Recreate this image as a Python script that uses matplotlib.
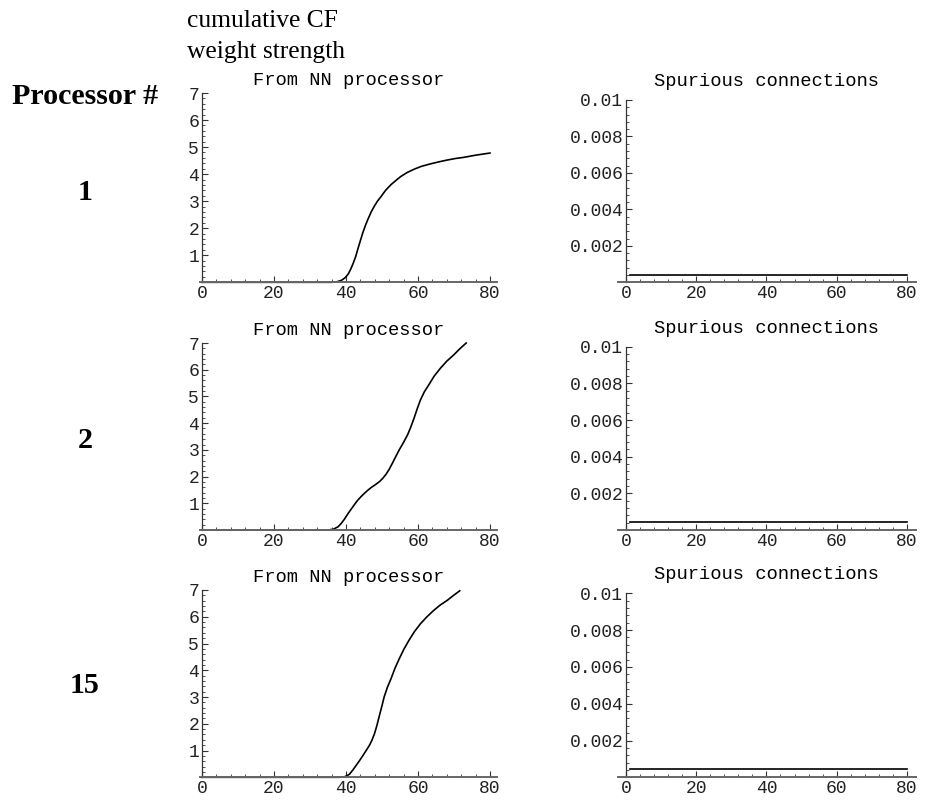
import matplotlib
matplotlib.use("Agg")
import matplotlib.pyplot as plt
from matplotlib.ticker import MultipleLocator

# curves: cumulative CF weight strength vs time
x_p1 = [0, 36, 37.5, 38.7, 39.7, 40.6, 41.3, 42, 42.7, 43.3, 44, 44.7, 45.4, 46.1, 47, 47.9,
        48.8, 49.8, 51, 52.5, 54, 55.2, 57, 58.9, 61, 63.5, 66, 68.1, 70.5, 72.7, 76, 80]
y_p1 = [0, 0, 0.02, 0.07, 0.16, 0.3, 0.48, 0.7, 0.95, 1.23, 1.54, 1.84, 2.1, 2.33, 2.6, 2.82,
        3.01, 3.18, 3.4, 3.61, 3.78, 3.91, 4.06, 4.18, 4.29, 4.38, 4.46, 4.52, 4.58, 4.62, 4.7, 4.78]

x_p2 = [0, 35, 36.5, 37.8, 38.7, 39.6, 40.5, 41.5, 42.4, 43.3, 44.2, 45.1, 46, 47, 48.2, 49.3,
        50.2, 51.1, 52, 52.9, 53.8, 54.8, 56, 57.1, 58, 58.9, 59.8, 60.7, 61.8, 63, 64.5, 66.2,
        68, 69.9, 71.6, 73.4]
y_p2 = [0, 0, 0.03, 0.12, 0.25, 0.41, 0.6, 0.79, 0.96, 1.12, 1.25, 1.37, 1.48, 1.59, 1.7, 1.81,
        1.93, 2.08, 2.27, 2.5, 2.74, 3.0, 3.28, 3.56, 3.85, 4.18, 4.54, 4.87, 5.18, 5.43, 5.76, 6.05,
        6.32, 6.55, 6.78, 7.0]

x_p15 = [0, 38, 39.6, 40.3, 41, 41.9, 42.8, 43.8, 44.7, 45.6, 46.5, 47.2, 47.9, 48.6, 49.3, 50,
         50.6, 51.5, 52.5, 53.6, 54.8, 56.1, 57.5, 59, 60.7, 62.5, 64.4, 66.2, 68.1, 69.9, 71.6]
y_p15 = [0, 0, 0.02, 0.06, 0.12, 0.27, 0.44, 0.63, 0.81, 1.0, 1.19, 1.38, 1.62, 1.94, 2.31, 2.67,
         3.0, 3.36, 3.68, 4.07, 4.43, 4.79, 5.12, 5.44, 5.74, 6.0, 6.24, 6.44, 6.61, 6.8, 6.97]

# spurious connections stay flat
x_spur = [1, 80]
spur_level = [0.0004, 0.00045, 0.00045]

processors = ["1", "2", "15"]
curves = [(x_p1, y_p1), (x_p2, y_p2), (x_p15, y_p15)]

left_ticks = [1, 2, 3, 4, 5, 6, 7]
right_ticks = [0.002, 0.004, 0.006, 0.008, 0.01]
right_labels = ["0.002", "0.004", "0.006", "0.008", "0.01"]
x_ticks = [0, 20, 40, 60, 80]

W, H = 925, 800
mono = "Liberation Mono"
serif = "Liberation Serif"

fig = plt.figure(figsize=(9.25, 8), dpi=100)

# pixel boxes (top, bottom) per row
left_rows = [(93, 282.3), (343, 530), (590, 777.3)]
right_rows = [(100, 282.3), (346.7, 530), (593.3, 777.3)]


def box(x0, x1, top, bot):
    return [x0 / W, 1 - bot / H, (x1 - x0) / W, (bot - top) / H]


def style(ax, xlim, ylim):
    ax.set_xlim(*xlim)
    ax.set_ylim(*ylim)
    for s in ["top", "right"]:
        ax.spines[s].set_visible(False)
    ax.spines["left"].set_position(("data", 0))
    ax.spines["left"].set_color("#333333")
    ax.spines["left"].set_linewidth(0.9)
    ax.spines["bottom"].set_color("#666666")
    ax.spines["bottom"].set_linewidth(1.4)
    ax.set_xticks(x_ticks)
    ax.xaxis.set_minor_locator(MultipleLocator(4))
    ax.tick_params(which="both", direction="in", color="#333333",
                   labelsize=13, labelcolor="#222222", pad=2)
    ax.tick_params(which="major", length=4, width=0.8)
    ax.tick_params(which="minor", length=2, width=0.6)
    for lab in ax.get_xticklabels() + ax.get_yticklabels():
        lab.set_fontfamily(mono)


for i in range(3):
    xs, ys = curves[i]
    ax = fig.add_axes(box(199.8, 496.8, *left_rows[i]))
    ax.plot(xs, ys, color="black", lw=1.2, clip_on=False)
    ax.set_yticks(left_ticks)
    ax.yaxis.set_minor_locator(MultipleLocator(0.2))
    style(ax, (-0.6, 81.9), (0, 7))
    ax.set_title("From NN processor", fontfamily=mono, fontsize=13.5, pad=6)

    ax2 = fig.add_axes(box(618.3, 915.6, *right_rows[i]))
    ax2.plot(x_spur, [spur_level[i]] * len(x_spur), color="black", lw=1.2)
    ax2.set_yticks(right_ticks)
    ax2.set_yticklabels(right_labels)
    ax2.yaxis.set_minor_locator(MultipleLocator(0.0004))
    style(ax2, (-2.2, 82.5), (0, 0.01))
    ax2.set_title("Spurious connections", fontfamily=mono, fontsize=13.5, pad=10)

fig.text(186.7 / W, 1 - 26.7 / H, "cumulative CF", fontfamily=serif,
         fontsize=18.4, va="baseline", ha="left")
fig.text(186.7 / W, 1 - 58.3 / H, "weight strength", fontfamily=serif,
         fontsize=18.4, va="baseline", ha="left")
fig.text(11.7 / W, 1 - 104.5 / H, "Processor #", fontfamily=serif,
         fontweight="bold", fontsize=21.6, va="baseline", ha="left")
for lab, base in zip(processors, [199.5, 448.3, 693]):
    fig.text(85 / W, 1 - base / H, lab, fontfamily=serif, fontweight="bold",
             fontsize=21.6, va="baseline", ha="center")

fig.savefig("out.png", dpi=100)
